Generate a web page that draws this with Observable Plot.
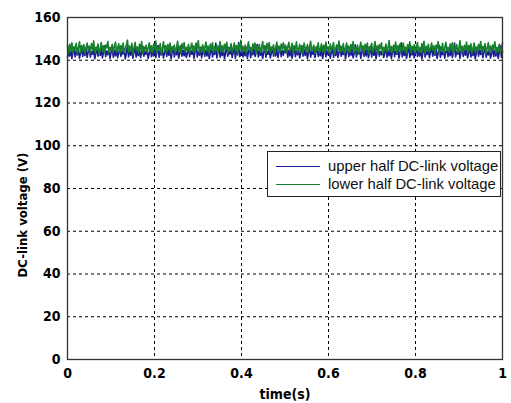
<!DOCTYPE html>
<html>
<head>
<meta charset="utf-8">
<script src="https://cdn.jsdelivr.net/npm/d3@7"></script>
<script src="https://cdn.jsdelivr.net/npm/@observablehq/plot@0.6"></script>
<style>
  html, body { margin: 0; padding: 0; background: #fff; }
  #wrap { position: relative; width: 511px; height: 403px; }
  #legend {
    position: absolute; left: 267px; top: 151px; width: 234px; height: 46px;
    border: 1px solid #222; background: #fff; box-sizing: border-box;
    font-family: "Liberation Sans", Arial, sans-serif; font-size: 14.8px; color: #111;
  }
  .row { position: absolute; left: 0; height: 18px; display: flex; align-items: center; }
  .sw { width: 44px; height: 0; margin-left: 8px; margin-right: 8px; border-top: 1px solid; }
  svg text { font-stretch: condensed; }
</style>
</head>
<body>
<div id="wrap">
  <div id="chart"></div>
  <div id="legend"></div>
</div>
<script>
const seriesNames = ["upper half DC-link voltage", "lower half DC-link voltage"];
const seriesColors = ["#1c1c96", "#16802c"];
const xTicks = [0, 0.2, 0.4, 0.6, 0.8, 1];
const xTickLabels = ["0", "0.2", "0.4", "0.6", "0.8", "1"];
const yTicks = [0, 20, 40, 60, 80, 100, 120, 140, 160];
const xLabel = "time(s)";
const yLabel = "DC-link voltage (V)";

// upper half DC-link voltage (V), samples evenly spaced over 0..1 s
const upperVoltage = [
141.2,144.6,142.0,145.3,140.8,143.7,146.0,141.6,144.2,142.5,
145.1,141.0,143.4,146.3,141.8,144.9,142.2,145.7,141.3,143.9,
146.5,141.5,144.0,142.8,145.4,140.7,143.2,146.1,141.9,144.5,
142.3,145.9,141.1,143.6,146.7,141.7,144.3,142.6,145.2,140.9,
143.8,146.2,141.4,144.7,142.1,145.6,141.2,143.5,146.4,141.8,
144.1,142.9,145.0,140.6,143.3,146.8,141.6,144.4,142.4,145.8,
141.0,143.9,146.0,141.5,144.8,142.2,145.3,141.3,143.6,146.6,
141.9,144.0,142.7,145.5,140.8,143.1,146.3,141.7,144.6,142.0,
145.9,141.2,143.7,146.9,141.4,144.2,142.5,145.1,141.1,143.4,
146.5,141.8,144.9,142.3,145.7,140.7,143.8,146.1,141.6,144.3,
142.6,145.4,141.0,143.5,146.7,141.9,144.7,142.1,145.0,141.3,
143.2,146.4,141.7,144.5,142.8,145.6,140.9,143.9,147.9,141.5,
144.1,142.4,145.8,141.2,143.6,146.2,141.8,144.8,142.0,145.3,
140.8,143.3,146.9,141.6,144.2,142.7,148.1,141.1,143.8,146.5,
141.4,144.6,142.2,145.2,140.7,143.4,147.6,141.9,144.0,142.9,
145.7,141.3,143.7,146.3,141.0,144.9,142.5,148.3,141.7,143.1,
146.6,141.5,144.4,142.1,145.9,140.9,143.9,146.0,141.2,144.7,
142.6,145.4,141.8,143.5,147.4,141.6,144.3,142.3,145.1,140.8,
143.6,146.8,141.4,144.1,142.8,145.5,141.1,143.2,146.2,141.9,
144.8,142.0,145.6,141.3,143.8,146.4,141.7,144.5,142.4,145.0,
143.5,146.1,141.4,144.7,142.0,145.5,140.9,143.8,146.6,141.7,
144.3,142.6,145.2,141.1,143.4,146.8,141.9,144.9,142.3,145.8,
140.7,143.6,146.3,141.5,144.1,142.8,145.0,141.2,143.9,146.5,
141.8,144.6,142.1,145.7,140.8,143.3,146.9,141.6,144.4,142.5,
145.3,141.0,143.7,146.2,141.4,144.8,142.2,145.9,141.3,143.5,
146.7,141.9,144.0,142.7,145.4,140.6,143.9,146.4,141.7,144.5,
142.4,145.1,141.1,143.2,147.2,141.5,144.2,142.9,145.6,140.9,
143.6,146.0,141.8,144.7,142.0,145.8,141.2,143.4,146.6,141.6,
144.9,142.3,145.3,140.7,143.8,146.3,141.9,144.1,142.6,145.0,
141.3,143.3,146.8,141.4,144.6,142.1,145.7,140.8,143.7,146.1,
141.7,144.3,142.8,145.5,141.0,143.5,148.2,141.6,144.8,142.2,
145.2,140.9,143.9,146.5,141.3,144.0,142.5,145.9,141.1,143.2,
146.7,141.8,144.5,142.0,145.4,140.7,143.6,147.7,141.5,144.2,
142.7,145.1,141.2,143.8,146.2,141.9,144.9,142.3,145.6,140.8,
143.4,146.9,141.4,144.4,142.6,145.3,141.0,143.7,146.0,141.7,
144.7,142.1,145.8,141.3,143.5,148.0,141.6,144.1,142.9,145.0,
140.9,143.9,146.4,141.8,144.6,142.4,145.5,141.1,143.3,146.7,
141.5,144.3,142.2,145.2,140.6,143.6,146.1,141.9,144.8,142.7,
145.7,141.2,143.8,146.6,141.4,144.0,142.5,145.4,141.0,143.1,
146.3,141.7,144.5,142.0,145.9,140.8,143.7,146.8,141.3,144.2
];

// lower half DC-link voltage (V)
const lowerVoltage = [
146.8,143.2,147.5,144.1,148.2,143.6,146.3,145.0,147.9,142.9,
145.7,148.6,143.8,146.9,144.4,147.3,143.1,145.9,148.0,144.7,
146.5,143.4,147.8,145.2,149.1,143.9,146.1,144.6,147.6,143.0,
145.4,148.3,144.2,146.7,143.5,147.1,145.8,148.8,143.3,146.0,
144.9,147.4,143.7,146.4,148.5,144.0,145.6,147.7,143.2,146.9,
144.5,148.1,143.6,145.3,147.2,149.4,143.9,146.6,144.3,147.9,
142.8,145.9,148.4,144.8,146.2,143.4,147.5,145.1,148.7,143.1,
146.3,144.6,147.0,143.8,145.7,148.2,144.1,146.8,143.5,147.6,
145.4,149.0,143.3,146.1,144.7,147.8,142.9,145.5,148.6,144.4,
146.9,143.7,147.3,145.0,148.1,143.2,146.4,144.9,147.1,143.6,
145.8,148.9,144.2,146.5,143.0,147.7,145.3,148.3,143.9,146.0,
144.6,147.4,143.4,145.6,148.0,144.1,146.7,143.8,147.9,145.2,
149.2,143.5,146.2,144.8,147.2,142.9,145.9,148.5,144.3,146.6,
143.1,147.6,145.1,148.2,143.7,146.3,144.5,147.0,143.3,145.7,
148.7,144.0,146.8,143.6,147.5,145.4,148.4,143.2,146.1,144.7,
147.8,143.9,145.5,148.1,144.4,146.9,143.0,147.3,145.0,149.3,
143.8,146.4,144.2,147.1,143.5,145.8,148.6,144.6,146.0,143.4,
147.7,145.3,148.0,143.1,146.5,144.9,147.4,143.7,145.6,148.8,
144.3,146.7,143.3,147.9,145.1,148.3,143.6,146.2,144.8,147.2,
143.0,145.9,148.5,144.1,146.6,143.9,147.6,145.4,148.2,144.5,
147.1,143.8,146.0,148.4,144.2,145.5,147.9,143.3,146.7,144.9,
148.6,143.6,145.2,147.4,144.5,146.8,143.1,148.0,145.7,144.0,
147.3,143.9,146.4,148.9,144.3,145.8,147.0,143.2,146.2,144.7,
148.2,143.5,145.4,147.7,144.1,146.9,143.7,148.5,145.0,146.3,
143.4,147.6,144.8,146.1,148.3,143.0,145.6,147.2,144.4,149.0,
143.8,146.5,144.6,147.8,143.3,145.3,148.1,144.0,146.6,143.6,
147.4,145.1,148.7,143.9,146.0,144.3,147.1,143.1,145.9,148.4,
144.7,146.8,143.5,147.5,145.2,148.0,143.2,146.3,144.9,147.9,
143.7,145.5,148.8,144.2,146.7,143.4,147.3,145.4,148.2,143.0,
146.1,144.5,147.6,143.9,145.7,149.2,144.1,146.4,143.6,147.0,
145.0,148.5,143.3,146.9,144.6,147.7,143.8,145.3,148.1,144.3,
146.2,143.1,147.4,145.6,148.6,143.5,146.6,144.8,147.2,143.7,
145.8,148.3,144.0,146.0,143.4,147.8,145.1,148.9,143.2,146.5,
144.4,147.5,143.9,145.4,148.0,144.7,146.8,143.0,147.1,145.5,
148.7,143.6,146.3,144.2,147.9,143.3,145.9,148.4,144.5,146.1,
143.8,147.6,145.2,148.2,143.1,146.7,144.9,147.3,143.5,145.6,
149.1,144.1,146.4,143.7,147.0,145.0,148.5,143.4,146.9,144.6,
147.7,143.2,145.7,148.1,144.3,146.2,143.9,147.4,145.3,148.8,
143.6,146.5,144.8,147.8,143.0,145.8,148.3,144.0,146.6,143.8,
147.2,145.4,148.6,143.3,146.0,144.4,147.5,143.7,145.5,148.0
];

const toRows = (vals) => vals.map((v, i) => ({t: i / (vals.length - 1), v}));
const upperRows = toRows(upperVoltage);
const lowerRows = toRows(lowerVoltage);

const tickFont = '"DejaVu Sans", "Liberation Sans Narrow", "Arial Narrow", sans-serif';

const chart = Plot.plot({
  width: 511,
  height: 403,
  marginLeft: 67,
  marginRight: 9,
  marginTop: 17,
  marginBottom: 44,
  style: {fontFamily: tickFont, fontSize: "14px", fontWeight: "bold", fontStretch: "condensed", color: "#000", background: "#fff"},
  x: {domain: [0, 1]},
  y: {domain: [0, 160]},
  marks: [
    Plot.gridX(xTicks, {stroke: "#000", strokeOpacity: 1, strokeDasharray: "3,3", strokeWidth: 1}),
    Plot.gridY(yTicks, {stroke: "#000", strokeOpacity: 1, strokeDasharray: "3,3", strokeWidth: 1}),
    Plot.lineY(upperRows, {x: "t", y: "v", stroke: seriesColors[0], strokeWidth: 1.6}),
    Plot.lineY(lowerRows, {x: "t", y: "v", stroke: seriesColors[1], strokeWidth: 1.6}),
    Plot.frame({stroke: "#333", strokeWidth: 1.3}),
    Plot.axisX(xTicks, {tickSize: 0, tickPadding: 9, tickFormat: (d, i) => xTickLabels[i],
      label: xLabel, labelAnchor: "center", labelArrow: "none", labelOffset: 39}),
    Plot.axisY(yTicks, {tickSize: 0, tickPadding: 7, label: null})
  ]
});
document.getElementById("chart").appendChild(chart);

d3.select(chart).append("text")
  .attr("transform", "translate(27,215) rotate(-90)")
  .attr("text-anchor", "middle")
  .attr("font-family", tickFont)
  .attr("font-weight", "bold")
  .attr("font-size", 13)
  .attr("fill", "#000")
  .text(yLabel);

const legend = d3.select("#legend");
seriesNames.forEach((name, i) => {
  const row = legend.append("div").attr("class", "row").style("top", (5 + i * 18) + "px");
  row.append("div").attr("class", "sw").style("border-color", seriesColors[i]);
  row.append("span").text(name);
});
</script>
</body>
</html>
